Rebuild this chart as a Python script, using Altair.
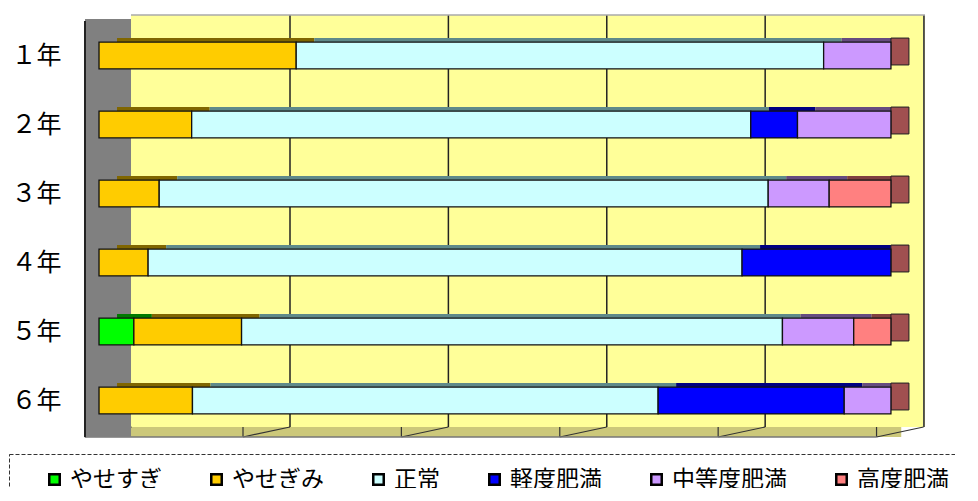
import altair as alt
import pandas as pd

# ---- data ----
grades = ["１年", "２年", "３年", "４年", "５年", "６年"]
categories = ["やせすぎ", "やせぎみ", "正常", "軽度肥満", "中等度肥満", "高度肥満"]
yasesugi = [0, 0, 0, 0, 4.4, 0]
yasegimi = [24.9, 11.7, 7.6, 6.2, 13.6, 11.8]
seijo = [66.6, 70.6, 76.9, 75.0, 68.3, 58.8]
keido = [0, 5.9, 0, 18.8, 0, 23.5]
chuto = [8.5, 11.8, 7.7, 0, 9.0, 5.9]
kodo = [0, 0, 7.8, 0, 4.7, 0]
grid_values = [20, 40, 60, 80]
floor_values = [0, 20, 40, 60, 80, 100]

colors = ["#00FF00", "#FFCC00", "#CCFFFF", "#0000FF", "#CC99FF", "#FF8080"]
top_colors = ["#007A00", "#806600", "#5F8A8A", "#000080", "#664C80", "#804040"]

series = [yasesugi, yasegimi, seijo, keido, chuto, kodo]
rows = []
for ci, (cat, vals) in enumerate(zip(categories, series)):
    for gi, g in enumerate(grades):
        if vals[gi] > 0:
            rows.append({"grade": g, "category": cat, "value": vals[gi], "idx": ci})
df = pd.DataFrame(rows)

FONT = "Noto Sans CJK JP"
XMIN, XMAX = -1.77, 104.3
WALL = 4.04
xscale = alt.Scale(domain=[XMIN, XMAX], nice=False, zero=False)
yscale = alt.Scale(domain=grades, paddingInner=0.61, paddingOuter=0.363, align=0.54)

grid_df = pd.DataFrame({"g": grid_values})
floor_df = pd.DataFrame({"g": floor_values})


def span(a, b):
    return pd.DataFrame({"x0": [a], "x1": [b]})


def xs():
    return alt.X("x0:Q", scale=xscale, axis=None)


# decorations (3D walls / floor)
back_wall = alt.Chart(span(WALL, XMAX)).mark_rect(color="#FFFF99").encode(
    x=xs(), x2="x1", y=alt.value(0), y2=alt.value(412))
floor = alt.Chart(span(WALL, 101.3)).mark_rect(color="#CCC87A").encode(
    x=xs(), x2="x1", y=alt.value(412), y2=alt.value(422))
side_wall = alt.Chart(span(XMIN, WALL)).mark_rect(color="#808080").encode(
    x=xs(), x2="x1", y=alt.value(4), y2=alt.value(422))
floor_diag = alt.Chart(floor_df).mark_rule(color="#333333", strokeWidth=1.2,
                                           xOffset=-14.4, x2Offset=32.6).encode(
    x=alt.X("g:Q", scale=xscale, axis=None), x2="g", y=alt.value(422), y2=alt.value(412))
front_ticks = alt.Chart(floor_df).mark_rule(color="#333333", strokeWidth=1.2, xOffset=-14.4).encode(
    x=alt.X("g:Q", scale=xscale, axis=None), y=alt.value(412), y2=alt.value(422))
floor_front = alt.Chart(span(XMIN, 98.2)).mark_rule(color="#777777", strokeWidth=1.5).encode(
    x=xs(), x2="x1", y=alt.value(422))
grid = alt.Chart(grid_df).mark_rule(color="#222222", strokeWidth=1.5, xOffset=32.6).encode(
    x=alt.X("g:Q", scale=xscale, axis=None), y=alt.value(0), y2=alt.value(412))
right_edge = alt.Chart(span(100, 100)).mark_rule(color="#444444", strokeWidth=1.8, xOffset=33).encode(
    x=xs(), y=alt.value(0), y2=alt.value(412))
top_edge = alt.Chart(span(WALL, XMAX)).mark_rule(color="#AAAAAA", strokeWidth=1.5).encode(
    x=xs(), x2="x1", y=alt.value(0))
left_edge = alt.Chart(span(XMIN, XMIN)).mark_rule(color="#222222", strokeWidth=2).encode(
    x=xs(), y=alt.value(6), y2=alt.value(422))

# bars
top_faces = alt.Chart(df).mark_bar(xOffset=18, yOffset=-4).encode(
    y=alt.Y("grade:N", sort=grades, scale=yscale),
    x=alt.X("value:Q", stack="zero", scale=xscale, axis=None),
    color=alt.Color("category:N", sort=categories,
                    scale=alt.Scale(domain=categories, range=top_colors), legend=None),
    order=alt.Order("idx:Q", sort="ascending"),
)
caps_df = pd.DataFrame({"grade": grades, "x0": [100] * len(grades)})
caps = alt.Chart(caps_df).mark_rect(
    color="#A05050", stroke="#222222", strokeWidth=1, x2Offset=18, yOffset=-4).encode(
    y=alt.Y("grade:N", sort=grades, scale=yscale),
    x=xs(), x2="x0")
bars = alt.Chart(df).mark_bar(stroke="#111111", strokeWidth=1.3).encode(
    y=alt.Y("grade:N", sort=grades, scale=yscale,
            axis=alt.Axis(title=None, domain=False, ticks=False, labelFontSize=25,
                          labelFont=FONT, labelColor="black", labelPadding=24)),
    x=alt.X("value:Q", stack="zero", scale=xscale, axis=None),
    color=alt.Color("category:N", sort=categories,
                    scale=alt.Scale(domain=categories, range=colors),
                    legend=alt.Legend(title="\u3000", titleOrient="left", titleFontSize=12,
                                      titlePadding=20,
                                      orient="none", legendX=-76, legendY=439,
                                      direction="horizontal", columns=6, columnPadding=43,
                                      gridAlign="none",
                                      symbolType="square", symbolSize=110,
                                      symbolStrokeColor="black", symbolStrokeWidth=2.5,
                                      symbolOpacity=1,
                                      labelFont=FONT, labelFontSize=23, labelColor="black",
                                      labelOffset=4, padding=14,
                                      strokeColor="#333333")),
    order=alt.Order("idx:Q", sort="ascending"),
)

chart = alt.layer(
    back_wall, floor, floor_diag, front_ticks, floor_front, grid, right_edge, top_edge,
    side_wall, left_edge, top_faces, caps, bars
).resolve_scale(color="independent").properties(
    width=840, height=422,
    autosize=alt.AutoSizeParams(type="none"),
    padding={"left": 77, "top": 7, "right": 30, "bottom": 51},
    background="white",
).configure_view(strokeWidth=0).configure_legend(strokeDash=[4, 2])

chart.save("out.html", embed_options={"renderer": "svg", "actions": False})
